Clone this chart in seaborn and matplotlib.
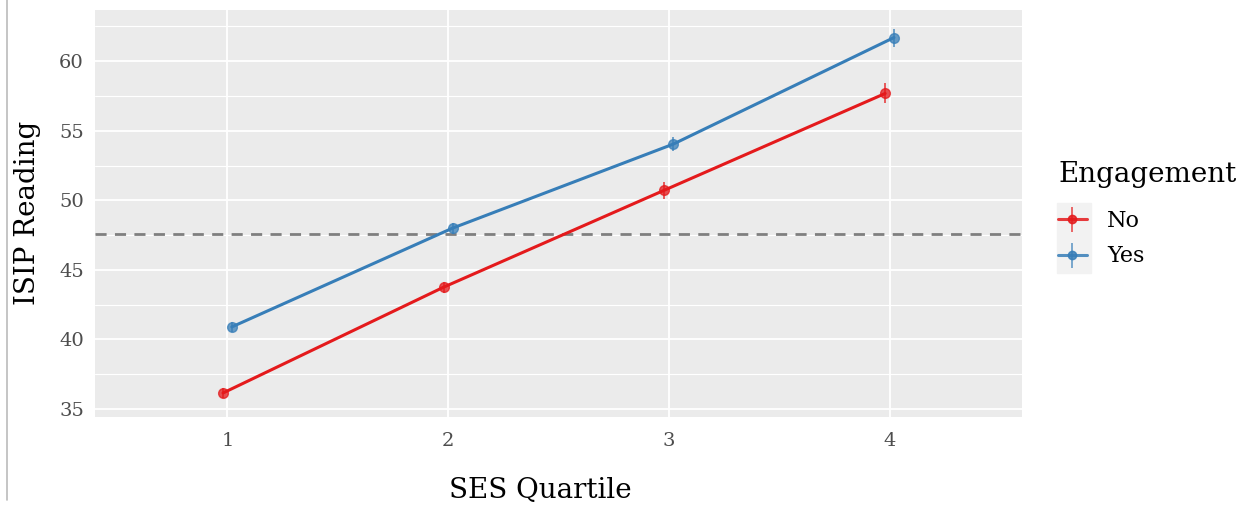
import seaborn as sns
import pandas as pd
import matplotlib.pyplot as plt
from matplotlib.lines import Line2D
from matplotlib.patches import Rectangle
from matplotlib.ticker import MultipleLocator

quartiles = [1, 2, 3, 4]
groups = ["No", "Yes"]
reading_no = [36.15, 43.76, 50.73, 57.68]
reading_yes = [40.9, 48.0, 54.04, 61.7]
se_no = [0.35, 0.4, 0.6, 0.72]
se_yes = [0.35, 0.4, 0.5, 0.65]
cutoff = 47.57

palette = {"No": "#E41A1C", "Yes": "#377EB8"}
dodge = {"No": -0.02, "Yes": 0.02}

df = pd.DataFrame({
    "quartile": quartiles * 2,
    "group": ["No"] * 4 + ["Yes"] * 4,
    "reading": reading_no + reading_yes,
    "se": se_no + se_yes,
})
df["xpos"] = df["quartile"] + df["group"].map(dodge)

sns.set_theme(style="darkgrid")
plt.rcParams["font.family"] = ["DejaVu Serif"]

fig = plt.figure(figsize=(12.46, 5.08), dpi=100)
ax = fig.add_axes([95 / 1246, 1 - 416.5 / 508, 927 / 1246, 406.5 / 508])
ax.set_facecolor("#EBEBEB")

sns.lineplot(data=df, x="xpos", y="reading", hue="group", palette=palette,
             lw=2.2, legend=False, ax=ax, zorder=3)
for g, sub in df.groupby("group"):
    ax.errorbar(sub["xpos"], sub["reading"], yerr=sub["se"], fmt="o",
                color=palette[g], ms=7, lw=1.3, alpha=0.75, capsize=0, zorder=4)

ax.axhline(cutoff, color="#7F7F7F", lw=2, ls=(0, (4, 3)), zorder=2)

ax.set_xlim(0.4, 4.6)
ax.set_ylim(34.46, 63.68)
ax.set_xticks(quartiles)
ax.set_xticklabels([str(q) for q in quartiles])
ax.yaxis.set_major_locator(MultipleLocator(5))
ax.yaxis.set_minor_locator(MultipleLocator(2.5))
ax.grid(which="major", color="white", lw=1.3)
ax.grid(which="minor", axis="y", color="white", lw=0.8)
for s in ax.spines.values():
    s.set_visible(False)
ax.tick_params(axis="both", which="major", length=4, width=1, color="#333333",
               labelcolor="#4D4D4D", labelsize=14, pad=4)
ax.tick_params(axis="y", which="minor", length=0)
ax.tick_params(axis="x", pad=7)

ax.set_xlabel("SES Quartile", fontsize=20, color="black")
ax.xaxis.set_label_coords(0.48, -0.15)
ax.set_ylabel("ISIP Reading", fontsize=20, color="black")
ax.yaxis.set_label_coords(-0.058, 0.5)

# legend: title as text, key background as a patch
fig.text(1058 / 1246, 1 - 174 / 508, "Engagement", fontsize=20, color="black",
         ha="left", va="center")
fig.add_artist(Rectangle((1057 / 1246, 1 - 273 / 508), 34 / 1246, 70 / 508,
                         transform=fig.transFigure, color="#F2F2F2", zorder=0))
handles = []
for g in groups:
    h1 = Line2D([], [], color=palette[g], lw=2.2, marker="o", ms=6, alpha=0.85)
    h2 = Line2D([], [], color=palette[g], lw=0, marker="|", ms=18, mew=1.3, alpha=0.7)
    handles.append((h1, h2))
leg = fig.legend(handles, groups, loc="upper left",
                 bbox_to_anchor=(1058 / 1246, 1 - 210 / 508), frameon=False,
                 fontsize=16, labelcolor="black", handlelength=1.3,
                 handletextpad=0.9, labelspacing=0.6, borderpad=0,
                 borderaxespad=0)

fig.add_artist(Line2D([7 / 1246, 7 / 1246], [1 - 500 / 508, 1], color="#BBBBBB",
                      lw=1.2, transform=fig.transFigure))

fig.savefig("out.png", dpi=100, facecolor="white")
